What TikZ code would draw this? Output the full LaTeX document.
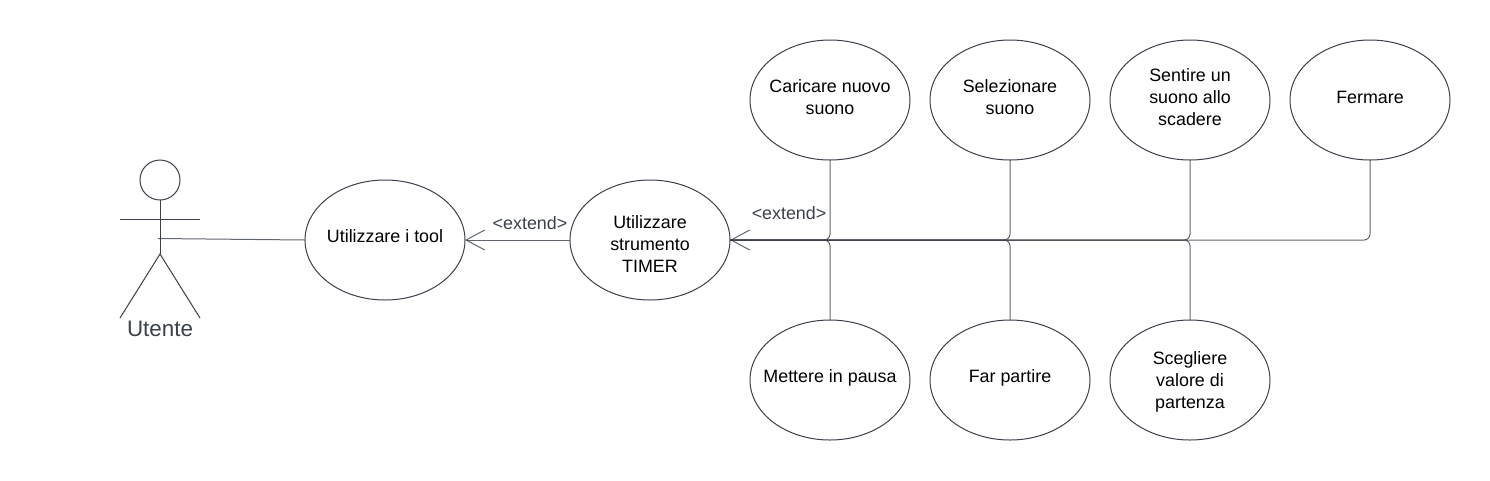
\documentclass[tikz,border=0pt]{standalone}
\usepackage{fontspec}
\setmainfont{Liberation Sans}
\usetikzlibrary{shapes.geometric,arrows.meta}
\definecolor{umlline}{HTML}{3A414A}
\newcommand{\lbl}[2][0.4pt]{\makebox[0pt]{\raisebox{\dimexpr#1-3.3pt}[0pt][0pt]{\begin{tabular}{@{}c@{}}#2\end{tabular}}}}
\tikzset{
  usecase/.style={ellipse,draw=umlline,line width=0.75pt,minimum width=120pt,minimum height=90pt,inner sep=0pt,outer sep=0pt,
    font=\fontsize{13.4}{16.5}\selectfont,text=black},
  figure line/.style={draw=umlline,line width=0.75pt},
  assoc/.style={draw=umlline,line width=0.75pt,draw opacity=0.8},
  link/.style={assoc,rounded corners=4.5pt},
  openarrow/.style={-{Straight Barb[length=14pt,width=15pt,line width=0.75pt]}},
  caption/.style={font=\fontsize{13.4}{16}\selectfont,text=umlline,inner sep=0pt},
}
\begin{document}
\begin{tikzpicture}[x=0.75pt,y=-0.75pt]
\useasboundingbox (0,0) rectangle (1490,480);
% actor
\node[circle,figure line,draw,minimum size=30pt,inner sep=0pt,outer sep=0pt] (head) at (160,180) {};
\coordinate (hip) at (160,254);
\coordinate (armL) at (120,219);
\coordinate (armR) at (200,219);
\coordinate (footL) at (120,318);
\coordinate (footR) at (200,318);
\coordinate (hand) at (158,238.5);
\draw[figure line] (head.south) -- (hip);
\draw[figure line] (armL) -- (armR);
\draw[figure line] (footL) -- (hip) -- (footR);
\node[font=\fontsize{16.8}{20}\selectfont,text=umlline,inner sep=0pt] (actor) at (160,329) {Utente};
% use cases
\node[usecase] (tool) at (385,240) {\lbl[1.15pt]{Utilizzare i tool}};
\node[usecase] (timer) at (650,240) {\lbl[-5.2pt]{Utilizzare\\strumento\\TIMER}};
\node[usecase] (carica) at (830,100) {\lbl{Caricare nuovo\\suono}};
\node[usecase] (seleziona) at (1010,100) {\lbl{Selezionare\\suono}};
\node[usecase] (sentire) at (1190,100) {\lbl{Sentire un\\suono allo\\scadere}};
\node[usecase] (fermare) at (1370,100) {\lbl{Fermare}};
\node[usecase] (pausa) at (830,380) {\lbl[1.15pt]{Mettere in pausa}};
\node[usecase] (partire) at (1010,380) {\lbl[1.15pt]{Far partire}};
\node[usecase] (valore) at (1190,380) {\lbl[-1.5pt]{Scegliere\\valore di\\partenza}};
% connectors
\draw[assoc] (hand) -- (tool.west);
\draw[assoc,openarrow] (timer.west) -- (tool.east);
\draw[link,openarrow] (carica.south) |- (timer.east);
\foreach \n in {seleziona,sentire,fermare}
  \draw[link] (\n.south) |- (timer.east);
\foreach \n in {pausa,partire,valore}
  \draw[link] (\n.north) |- (timer.east);
\node[caption] (ext1) at (530,223) {<extend>};
\node[caption] (ext2) at (789,213) {<extend>};
\end{tikzpicture}
\end{document}
